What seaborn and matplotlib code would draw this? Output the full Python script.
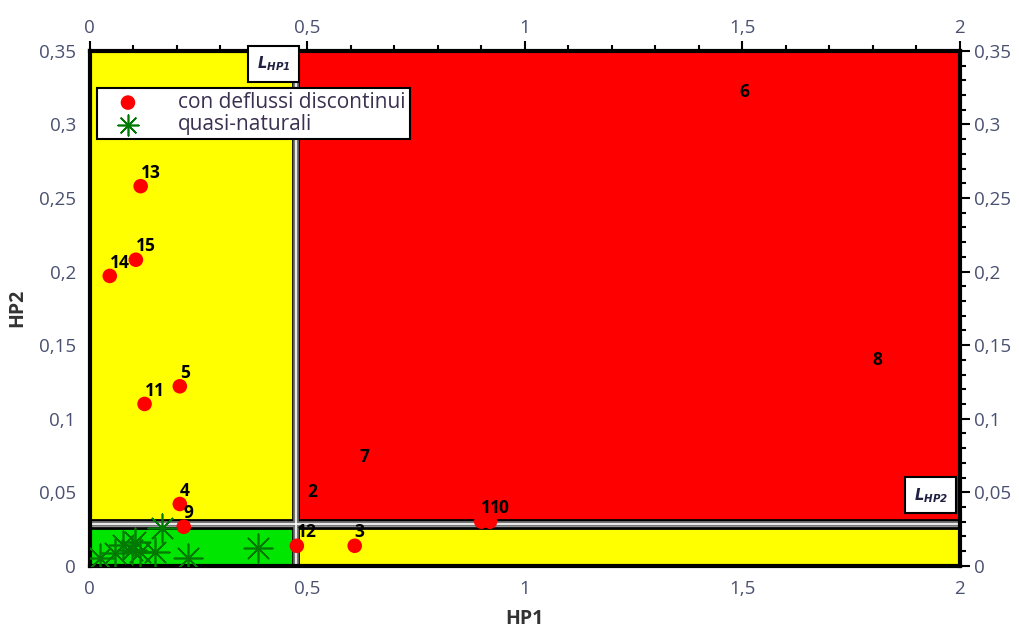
import numpy as np
import pandas as pd
import matplotlib
matplotlib.use('Agg')
import matplotlib.pyplot as plt
from matplotlib.patches import Rectangle
from matplotlib.ticker import MultipleLocator, FuncFormatter
import seaborn as sns

# discontinuous-flow stations (red)
disc_id = ['1', '10', '2', '3', '4', '5', '6', '7', '8', '9', '11', '12', '13', '14', '15']
disc_hp1 = [0.90, 0.92, 0.50, 0.609, 0.207, 0.207, 1.494, 0.62, 1.80, 0.216, 0.126, 0.476, 0.117, 0.046, 0.106]
disc_hp2 = [0.030, 0.030, 0.041, 0.0136, 0.042, 0.122, 0.313, 0.065, 0.131, 0.0265, 0.110, 0.0136, 0.258, 0.197, 0.208]

# quasi-natural stations (green)
nat_hp1 = [0.023, 0.057, 0.076, 0.097, 0.103, 0.115, 0.149, 0.166, 0.225, 0.386]
nat_hp2 = [0.0054, 0.009, 0.014, 0.011, 0.016, 0.0095, 0.0095, 0.026, 0.0054, 0.012]

L_HP1 = 0.473
L_HP2 = 0.0285

df = pd.concat([
    pd.DataFrame({'HP1': disc_hp1, 'HP2': disc_hp2, 'tipo': 'con deflussi discontinui'}),
    pd.DataFrame({'HP1': nat_hp1, 'HP2': nat_hp2, 'tipo': 'quasi-naturali'}),
], ignore_index=True)

sns.set_style('white')
plt.rcParams['font.family'] = ['Open Sans', 'DejaVu Sans']

fig = plt.figure(figsize=(10.2, 6.35), dpi=100)
ax = fig.add_axes([0.088, 0.109, 0.853, 0.811])

# zones
gap = 0.006
ax.add_patch(Rectangle((0, L_HP2 + 0.0025), L_HP1 - gap, 0.35 - L_HP2 - 0.0025,
                       facecolor='#ffff00', edgecolor='black', lw=2, zorder=1))
ax.add_patch(Rectangle((L_HP1 + gap, L_HP2 + 0.0025), 2 - L_HP1 - gap, 0.35 - L_HP2 - 0.0025,
                       facecolor='#ff0000', edgecolor='black', lw=2, zorder=1))
ax.add_patch(Rectangle((0, 0), L_HP1 - gap, L_HP2 - 0.0025,
                       facecolor='#00e600', edgecolor='black', lw=2, zorder=1))
ax.add_patch(Rectangle((L_HP1 + gap, 0), 2 - L_HP1 - gap, L_HP2 - 0.0025,
                       facecolor='#ffff00', edgecolor='black', lw=2, zorder=1))
for lw, c in [(4, '#777777'), (1.2, 'white')]:
    ax.axvline(L_HP1, color=c, lw=lw, zorder=2)
    ax.axhline(L_HP2, color=c, lw=lw, zorder=2)

sns.scatterplot(data=df[df['tipo'] == 'con deflussi discontinui'], x='HP1', y='HP2',
                color='#ff0000', s=110, edgecolor='none', marker='o', ax=ax,
                label='con deflussi discontinui', zorder=3)
sns.scatterplot(data=df[df['tipo'] == 'quasi-naturali'], x='HP1', y='HP2',
                color='#007a00', s=420, marker=(8, 2, 0), linewidth=1.2, ax=ax,
                label='quasi-naturali', zorder=3)

for i, x, y in zip(disc_id, disc_hp1, disc_hp2):
    ax.annotate(i, (x, y), xytext=(0, 6), textcoords='offset points',
                fontsize=12.5, fontweight='bold', color='black', zorder=4)

ax.set_xlim(0, 2)
ax.set_ylim(0, 0.35)
ax.xaxis.set_major_locator(MultipleLocator(0.5))
ax.xaxis.set_minor_locator(MultipleLocator(0.1))
ax.yaxis.set_major_locator(MultipleLocator(0.05))
ax.yaxis.set_minor_locator(MultipleLocator(0.01))
fmt = FuncFormatter(lambda v, p: ('%g' % round(v, 3)).replace('.', ','))
ax.xaxis.set_major_formatter(fmt)
ax.yaxis.set_major_formatter(fmt)
ax.tick_params(which='both', direction='out', top=True, right=True,
               labeltop=True, labelright=True, colors='black',
               labelcolor='#4a5070', labelsize=13.5, width=1.5)
ax.tick_params(which='major', length=7, pad=3)
ax.tick_params(which='minor', length=4)
for s in ax.spines.values():
    s.set_linewidth(3)
    s.set_color('black')

ax.set_xlabel('HP1', fontsize=14, fontweight='bold', color='#333333', labelpad=8)
ax.set_ylabel('HP2', fontsize=14, fontweight='bold', color='#333333', labelpad=8)

box = dict(boxstyle='square,pad=0.6', facecolor='white', edgecolor='black', lw=1.5)
ax.text(0.423, 0.341, r'$\mathbfit{L}_{\mathbfit{HP1}}$', ha='center', va='center',
        fontsize=10.5, color='#202040', bbox=box, zorder=5)
ax.text(1.933, 0.048, r'$\mathbfit{L}_{\mathbfit{HP2}}$', ha='center', va='center',
        fontsize=10.5, color='#202040', bbox=box, zorder=5)

leg = ax.legend(loc='upper left', bbox_to_anchor=(0.008, 0.928), frameon=True,
                fancybox=False, edgecolor='black', framealpha=1, fontsize=15,
                borderpad=0.2, labelspacing=0.05, handlelength=2.6,
                handletextpad=1.1, borderaxespad=0)
leg.get_frame().set_linewidth(1.5)
for t in leg.get_texts():
    t.set_color('#3a3050')
leg.legend_handles[1].set_sizes([220])

fig.savefig('out.png', dpi=100)
